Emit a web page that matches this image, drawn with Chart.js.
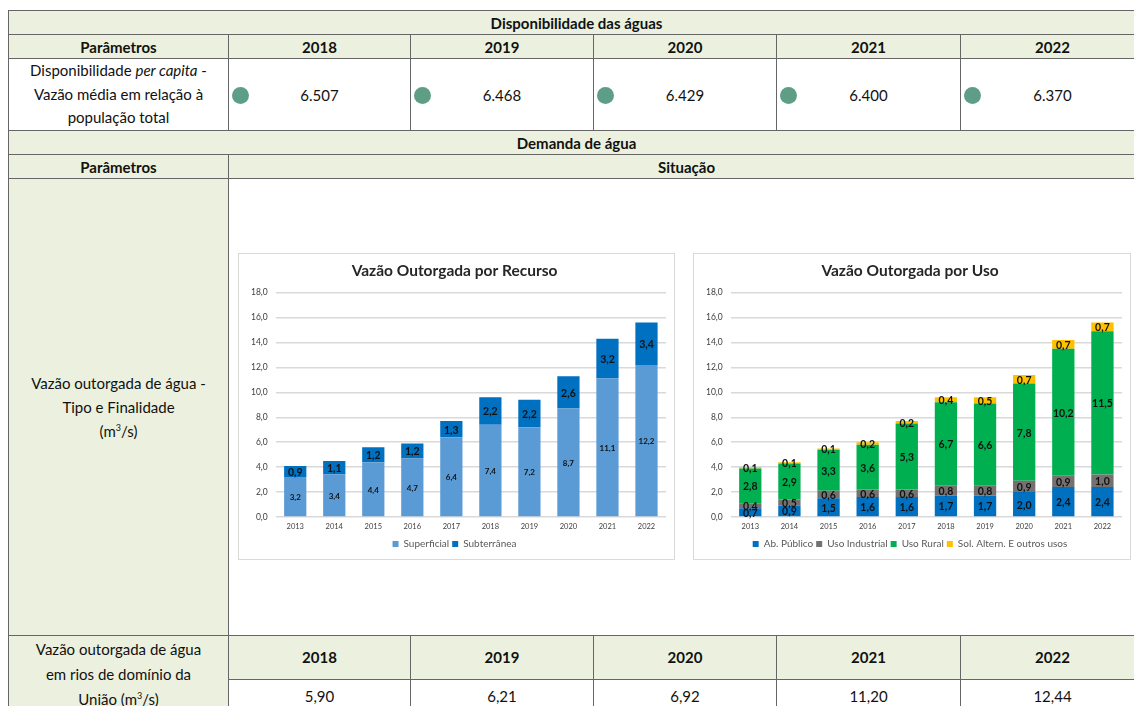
<!DOCTYPE html>
<html lang="pt">
<head>
<meta charset="utf-8">
<script src="https://cdn.jsdelivr.net/npm/chart.js@4.4.1/dist/chart.umd.min.js"></script>
<style>
  body { margin:0; width:1134px; height:706px; overflow:hidden; background:#fff; font-family:Lato, "Open Sans", sans-serif; color:#111; }
  table { position:absolute; left:8px; top:10px; border-collapse:collapse; table-layout:fixed; width:1136px; font-size:15px; }
  td { border:1px solid #666; text-align:center; padding:0; position:relative; line-height:22px; }
  .g { background:#EBF1DE; }
  .b { font-weight:bold; }
  .dot { position:absolute; left:3px; top:50%; margin-top:-8px; width:17px; height:17px; border-radius:50%; background:#5f9e86; }
  .box { position:absolute; top:253px; height:305px; border:1px solid #D9D9D9; background:#fff; }
</style>
</head>
<body>
<table id="tbl">
  <colgroup><col style="width:220px"><col style="width:182px"><col style="width:183px"><col style="width:183px"><col style="width:184px"><col style="width:184px"></colgroup>
  <tbody id="tb"></tbody>
</table>
<div class="box" style="left:238px;width:435px"><canvas id="chartRecurso"></canvas></div>
<div class="box" style="left:693px;width:436px"><canvas id="chartUso"></canvas></div>

<script>
// table data
const tableYears = ['2018', '2019', '2020', '2021', '2022'];
const perCapita = ['6.507', '6.468', '6.429', '6.400', '6.370'];
const vazaoUniao = ['5,90', '6,21', '6,92', '11,20', '12,44'];

// chart data
const years = ['2013', '2014', '2015', '2016', '2017', '2018', '2019', '2020', '2021', '2022'];
const superficial = [3.2, 3.4, 4.4, 4.7, 6.4, 7.4, 7.2, 8.7, 11.1, 12.2];
const subterranea = [0.9, 1.1, 1.2, 1.2, 1.3, 2.2, 2.2, 2.6, 3.2, 3.4];
const abPublico = [0.7, 0.9, 1.5, 1.6, 1.6, 1.7, 1.7, 2.0, 2.4, 2.4];
const usoIndustrial = [0.4, 0.5, 0.6, 0.6, 0.6, 0.8, 0.8, 0.9, 0.9, 1.0];
const usoRural = [2.8, 2.9, 3.3, 3.6, 5.3, 6.7, 6.6, 7.8, 10.2, 11.5];
const solAltern = [0.1, 0.1, 0.1, 0.2, 0.2, 0.4, 0.5, 0.7, 0.7, 0.7];
const yTicks = [0, 2, 4, 6, 8, 10, 12, 14, 16, 18];

const tb = document.getElementById('tb');
tb.innerHTML = `
  <tr style="height:24px"><td class="g b" colspan="6">Disponibilidade das águas</td></tr>
  <tr style="height:24px"><td class="g b">Parâmetros</td>${tableYears.map(y => `<td class="g b">${y}</td>`).join('')}</tr>
  <tr style="height:72px"><td style="line-height:23.5px">Disponibilidade <i>per capita</i> -<br>Vazão média em relação à<br>população total</td>${perCapita.map(v => `<td><span class="dot"></span>${v}</td>`).join('')}</tr>
  <tr style="height:24px"><td class="g b" colspan="6">Demanda de água</td></tr>
  <tr style="height:24px"><td class="g b">Parâmetros</td><td class="g b" colspan="5">Situação</td></tr>
  <tr style="height:457px"><td class="g" style="line-height:24px">Vazão outorgada de água -<br>Tipo e Finalidade<br>(m<sup style="font-size:9px;line-height:0">3</sup>/s)</td><td colspan="5"></td></tr>
  <tr style="height:43px"><td class="g" rowspan="2" style="line-height:25px;vertical-align:top;padding-top:1px">Vazão outorgada de água<br>em rios de domínio da<br>União (m<sup style="font-size:9px;line-height:0">3</sup>/s)</td>${tableYears.map(y => `<td class="g b">${y}</td>`).join('')}</tr>
  <tr style="height:33px">${vazaoUniao.map(v => `<td>${v}</td>`).join('')}</tr>
`;

const fmt = v => v.toFixed(1).replace('.', ',');

// writes each segment's value in the middle of the segment
const segLabels = {
  id: 'segLabels',
  afterDatasetsDraw(chart) {
    const ctx = chart.ctx;
    chart.data.datasets.forEach((ds, i) => {
      const meta = chart.getDatasetMeta(i);
      ctx.save();
      ctx.font = ds.labelFont;
      ctx.fillStyle = '#111';
      ctx.textAlign = 'center';
      ctx.textBaseline = 'middle';
      meta.data.forEach((bar, j) => {
        ctx.fillText(fmt(ds.data[j]), bar.x, (bar.y + bar.base) / 2 + 1);
      });
      ctx.restore();
    });
  }
};

function makeChart(id, title, datasets) {
  return new Chart(document.getElementById(id), {
    type: 'bar',
    data: {
      labels: years,
      datasets: datasets.map(d => Object.assign({ barPercentage: 0.57, categoryPercentage: 1, borderWidth: 0 }, d))
    },
    options: {
      responsive: true, maintainAspectRatio: false, animation: false,
      layout: { padding: { top: 4, left: 4, right: 8, bottom: 0 } },
      plugins: {
        title: { display: true, text: title, color: '#262626', font: { size: 15.5, weight: 'bold', family: 'Lato' }, padding: { top: 4, bottom: 12 } },
        legend: { position: 'bottom', labels: { boxWidth: 6, boxHeight: 6, color: '#595959', font: { size: 10, family: 'Lato' }, padding: 3 } },
        tooltip: { enabled: false }
      },
      scales: {
        x: { stacked: true, grid: { display: false, drawTicks: false }, border: { display: false }, ticks: { color: '#404040', font: { size: 7.5, family: 'Lato' }, padding: 5 } },
        y: {
          stacked: true, min: yTicks[0], max: yTicks[yTicks.length - 1],
          afterBuildTicks: ax => { ax.ticks = yTicks.map(v => ({ value: v })); },
          ticks: { color: '#404040', font: { size: 8.5, family: 'Lato' }, padding: 8, callback: v => fmt(v) },
          grid: { color: '#D9D9D9', lineWidth: 1.5, drawTicks: false }, border: { display: false }
        }
      }
    },
    plugins: [segLabels]
  });
}

const small = 'bold 8px Lato';
const big = 'bold 10.5px Lato';

makeChart('chartRecurso', 'Vazão Outorgada por Recurso', [
  { label: 'Superficial', data: superficial, backgroundColor: '#5B9BD5', labelFont: small },
  { label: 'Subterrânea', data: subterranea, backgroundColor: '#0070C0', labelFont: big }
]);

makeChart('chartUso', 'Vazão Outorgada por Uso', [
  { label: 'Ab. Público', data: abPublico, backgroundColor: '#0070C0', labelFont: big },
  { label: 'Uso Industrial', data: usoIndustrial, backgroundColor: '#767171', labelFont: big },
  { label: 'Uso Rural', data: usoRural, backgroundColor: '#00B050', labelFont: big },
  { label: 'Sol. Altern. E outros usos', data: solAltern, backgroundColor: '#FFC000', labelFont: big }
]);
</script>
</body>
</html>
